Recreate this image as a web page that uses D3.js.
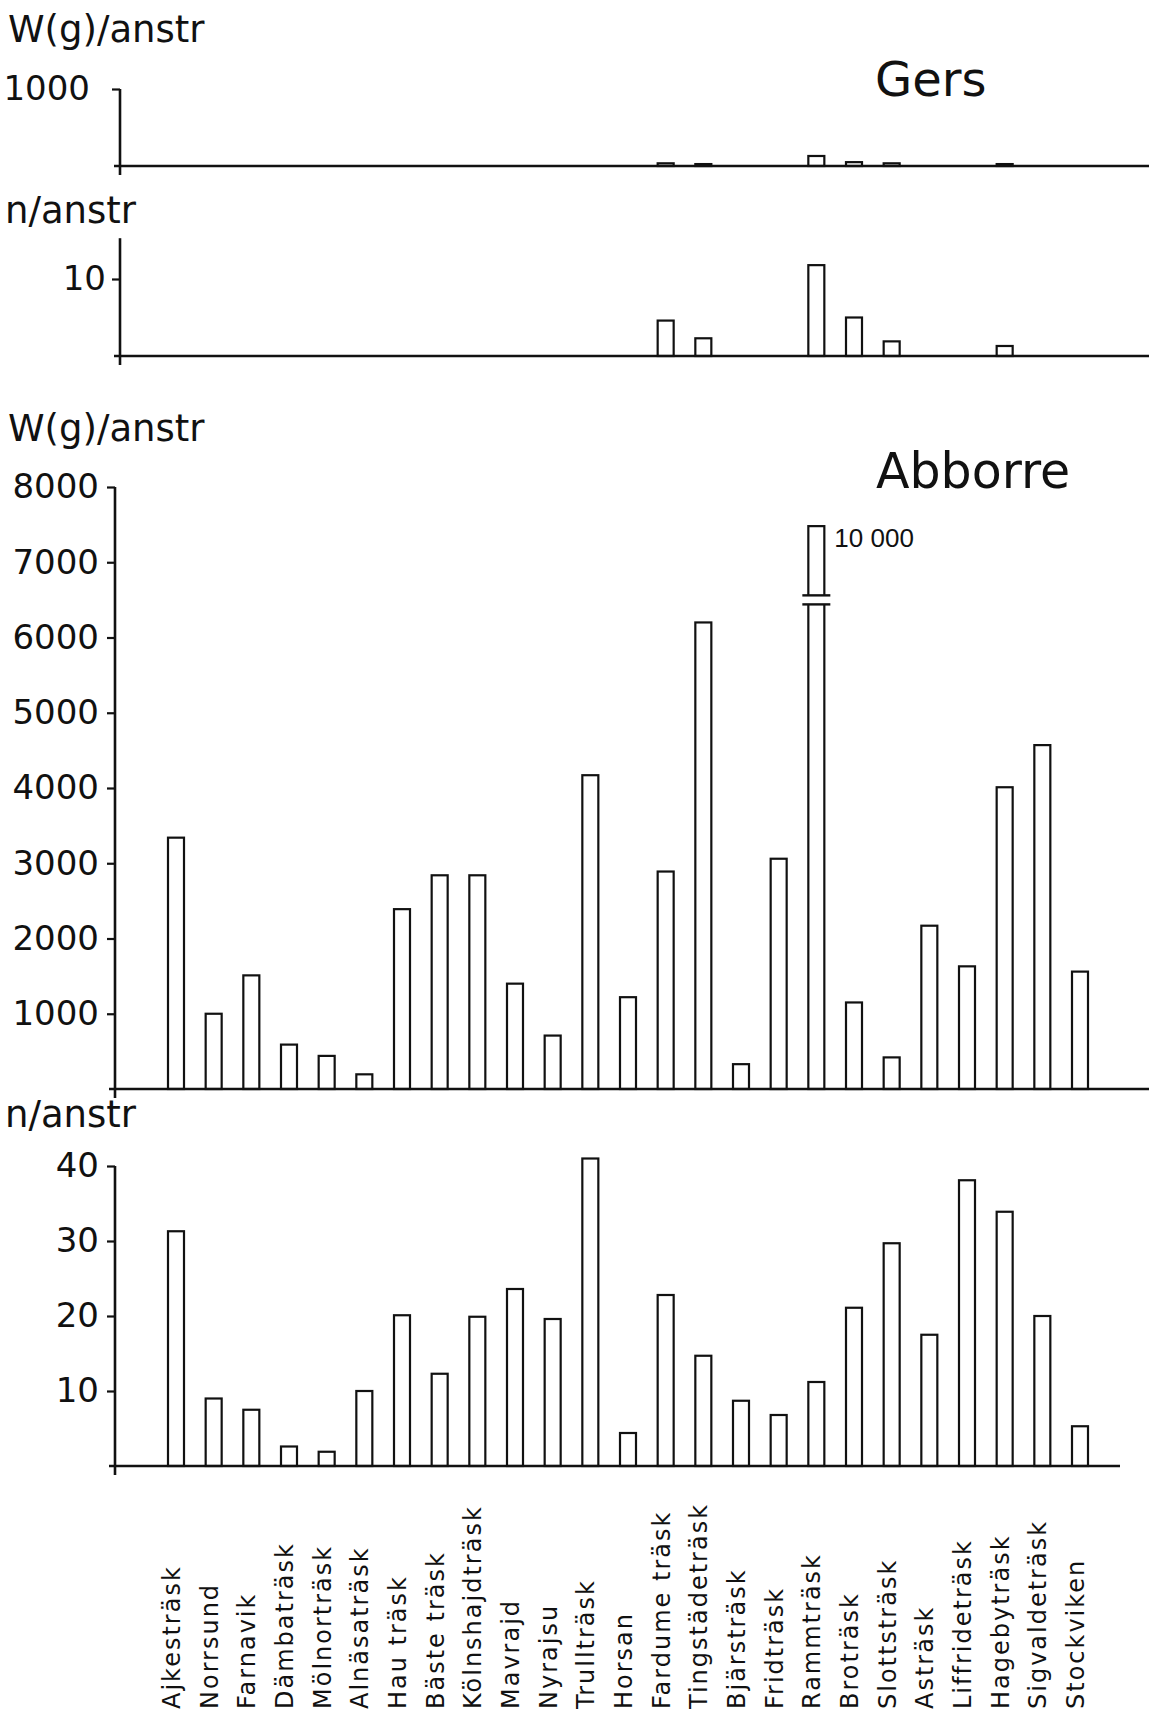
<!DOCTYPE html>
<html>
<head>
<meta charset="utf-8">
<script src="https://cdnjs.cloudflare.com/ajax/libs/d3/7.8.5/d3.min.js"></script>
<style>
  body { margin: 0; background: #fff; }
  svg text { font-family: "DejaVu Sans", sans-serif; fill: #111; }
</style>
</head>
<body>
<div class="layout"></div>
<script>
// lakes along the x axis
var lakes = ["Ajkesträsk", "Norrsund", "Farnavik", "Dämbaträsk", "Mölnorträsk",
  "Alnäsaträsk", "Hau träsk", "Bäste träsk", "Kölnshajdträsk", "Mavrajd",
  "Nyrajsu", "Trullträsk", "Horsan", "Fardume träsk", "Tingstädeträsk",
  "Bjärsträsk", "Fridträsk", "Rammträsk", "Broträsk", "Slottsträsk",
  "Asträsk", "Liffrideträsk", "Hagebyträsk", "Sigvaldeträsk", "Stockviken"];

// Gers, weight (g) and number per effort
var gersWeight = [0, 0, 0, 0, 0, 0, 0, 0, 0, 0, 0, 0, 0, 35, 25, 0, 0, 130, 50, 35, 0, 0, 25, 0, 0];
var gersCount = [0, 0, 0, 0, 0, 0, 0, 0, 0, 0, 0, 0, 0, 4.6, 2.3, 0, 0, 11.8, 5.0, 1.9, 0, 0, 1.3, 0, 0];

// Abborre, weight (g) and number per effort
var perchWeight = [3340, 1000, 1510, 590, 440, 195, 2390, 2840, 2840, 1400, 710, 4170,
  1220, 2890, 6200, 330, 3060, 10000, 1150, 420, 2170, 1630, 4010, 4570, 1560];
var perchCount = [31.3, 9.0, 7.5, 2.6, 1.9, 10.0, 20.1, 12.3, 19.9, 23.6, 19.6, 41.0,
  4.4, 22.8, 14.7, 8.7, 6.8, 11.2, 21.1, 29.7, 17.5, 38.1, 33.9, 20.0, 5.3];

// Rammträsk bar is cut: drawn up to brokenTop, break marks between breakLow and breakHigh
var brokenTop = 7480;
var breakLow = 6440;
var breakHigh = 6560;
var brokenLabel = "10 000";

var gersWTicks = [1000];
var gersNTicks = [10];
var perchWTicks = [1000, 2000, 3000, 4000, 5000, 6000, 7000, 8000];
var perchNTicks = [10, 20, 30, 40];

var width = 1149;
var height = 1716;
var barW = 16;

var svg = d3.select("div.layout")
  .append("svg")
    .attr("width", width)
    .attr("height", height);

var x = d3.scalePoint()
  .domain(lakes)
  .range([176, 1080]);

// one panel = axis + baseline + bars
function makePanel(values, opts) {
  var y = d3.scaleLinear()
    .domain(opts.domain)
    .range(opts.range);

  var g = svg.append("g").attr("class", opts.name);

  // bars
  g.selectAll("rect.bar")
    .data(values.map(function (v, i) { return {lake: lakes[i], v: v}; })
      .filter(function (d) { return d.v > 0; }))
    .enter()
    .append("rect")
    .attr("class", "bar")
    .attr("x", function (d) { return x(d.lake) - barW / 2; })
    .attr("y", function (d) { return y(Math.min(d.v, opts.cap || Infinity)); })
    .attr("width", barW)
    .attr("height", function (d) { return y(0) - y(Math.min(d.v, opts.cap || Infinity)); })
    .attr("fill", "#fff")
    .attr("stroke", "#111")
    .attr("stroke-width", 2.2);

  // baseline
  g.append("line")
    .attr("x1", opts.axisX - 6)
    .attr("x2", opts.baseEnd)
    .attr("y1", y(0))
    .attr("y2", y(0))
    .attr("stroke", "#111")
    .attr("stroke-width", 2.6);

  // y axis
  var axis = g.append("g")
    .attr("transform", "translate(" + opts.axisX + ",0)")
    .call(d3.axisLeft(y)
      .tickValues(opts.ticks)
      .tickFormat(d3.format("d"))
      .tickSize(8)
      .tickSizeOuter(0)
      .tickPadding(opts.pad));

  axis.select(".domain").remove();
  axis.selectAll(".tick line").attr("stroke", "#111").attr("stroke-width", 2.2);
  axis.selectAll(".tick text")
    .attr("font-size", 34)
    .attr("fill", "#111")
    .style("font-family", "'DejaVu Sans', sans-serif");

  g.append("line")
    .attr("x1", opts.axisX)
    .attr("x2", opts.axisX)
    .attr("y1", y(opts.axisTop))
    .attr("y2", y(0) + 9)
    .attr("stroke", "#111")
    .attr("stroke-width", 2.6);

  return y;
}

makePanel(gersWeight, {
  name: "gersW", domain: [0, 1000], range: [166, 89], axisX: 120,
  ticks: gersWTicks, pad: 22, axisTop: 1000, baseEnd: 1149
});

makePanel(gersCount, {
  name: "gersN", domain: [0, 10], range: [356, 279], axisX: 120,
  ticks: gersNTicks, pad: 6, axisTop: 15.3, baseEnd: 1149
});

var yW = makePanel(perchWeight, {
  name: "perchW", domain: [0, 8000], range: [1089, 487], axisX: 115,
  ticks: perchWTicks, pad: 8, axisTop: 8000, baseEnd: 1149, cap: brokenTop
});

makePanel(perchCount, {
  name: "perchN", domain: [0, 40], range: [1466, 1166], axisX: 115,
  ticks: perchNTicks, pad: 8, axisTop: 40, baseEnd: 1120
});

// break marks on the cut bar
var cutLake = lakes[perchWeight.indexOf(d3.max(perchWeight))];
svg.append("rect")
  .attr("x", x(cutLake) - barW / 2 - 2)
  .attr("y", yW(breakHigh))
  .attr("width", barW + 4)
  .attr("height", yW(breakLow) - yW(breakHigh))
  .attr("fill", "#fff");

svg.selectAll("line.break")
  .data([breakLow, breakHigh])
  .enter()
  .append("line")
  .attr("class", "break")
  .attr("x1", x(cutLake) - barW / 2 - 6)
  .attr("x2", x(cutLake) + barW / 2 + 6)
  .attr("y1", function (d) { return yW(d); })
  .attr("y2", function (d) { return yW(d); })
  .attr("stroke", "#111")
  .attr("stroke-width", 2.4);

svg.append("text")
  .attr("x", x(cutLake) + barW / 2 + 10)
  .attr("y", yW(brokenTop) + 21)
  .attr("font-size", 26)
  .style("font-family", "'Liberation Sans', Arial, sans-serif")
  .text(brokenLabel);

// unit labels and species titles
var unitLabels = [
  {t: "W(g)/anstr", x: 8, y: 42},
  {t: "n/anstr", x: 5, y: 223},
  {t: "W(g)/anstr", x: 8, y: 441},
  {t: "n/anstr", x: 5, y: 1127}
];

svg.selectAll("text.unit")
  .data(unitLabels)
  .enter()
  .append("text")
  .attr("class", "unit")
  .attr("x", function (d) { return d.x; })
  .attr("y", function (d) { return d.y; })
  .attr("font-size", 37)
  .text(function (d) { return d.t; });

svg.append("text")
  .attr("x", 875)
  .attr("y", 96)
  .attr("font-size", 48)
  .text("Gers");

svg.append("text")
  .attr("x", 876)
  .attr("y", 488)
  .attr("font-size", 49)
  .text("Abborre");

// lake names, rotated
svg.selectAll("text.lake")
  .data(lakes)
  .enter()
  .append("text")
  .attr("class", "lake")
  .attr("transform", function (d) {
    return "translate(" + (x(d) + 4) + ",1709) rotate(-90)";
  })
  .attr("font-size", 24)
  .attr("letter-spacing", 2)
  .text(function (d) { return d; });
</script>
</body>
</html>
